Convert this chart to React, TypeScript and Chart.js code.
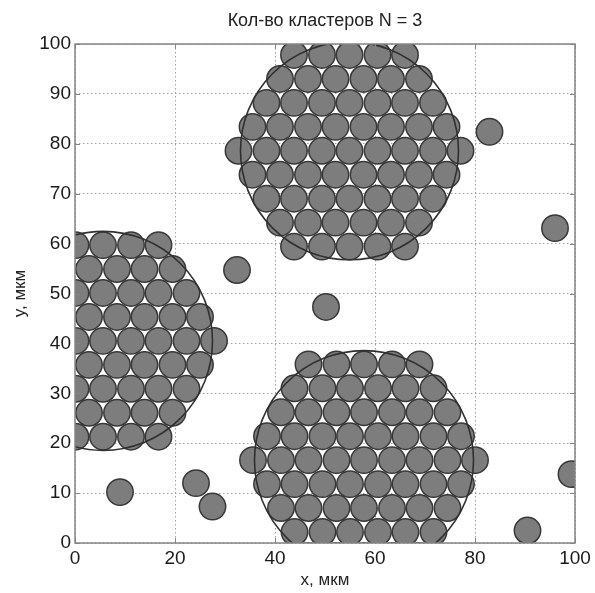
import React, { useEffect, useRef } from 'react';
import { Chart, registerables } from 'chart.js';

Chart.register(...registerables);

const TITLE = 'Кол-во кластеров N = 3';
const X_LABEL = 'x, мкм';
const Y_LABEL = 'y, мкм';

const xTicks = [0, 20, 40, 60, 80, 100];
const yTicks = [0, 10, 20, 30, 40, 50, 60, 70, 80, 90, 100];

// upper cluster (rows from top to bottom)
const topRowY = [97.8, 93.0, 88.2, 83.4, 78.6, 73.8, 69.0, 64.2, 59.4];
const topRowX = [
  [43.8, 49.4, 54.9, 60.5, 66.0],
  [41.0, 46.6, 52.1, 57.7, 63.2, 68.8],
  [38.3, 43.8, 49.4, 54.9, 60.5, 66.0, 71.6],
  [35.5, 41.0, 46.6, 52.1, 57.7, 63.2, 68.8, 74.3],
  [32.7, 38.3, 43.8, 49.4, 54.9, 60.5, 66.0, 71.6, 77.1],
  [35.5, 41.0, 46.6, 52.1, 57.7, 63.2, 68.8, 74.3],
  [38.3, 43.8, 49.4, 54.9, 60.5, 66.0, 71.6],
  [41.0, 46.6, 52.1, 57.7, 63.2, 68.8],
  [43.8, 49.4, 54.9, 60.5, 66.0],
];

// lower cluster
const bottomRowY = [35.8, 31.0, 26.2, 21.4, 16.6, 11.8, 7.0, 2.2, -2.6];
const bottomRowX = [
  [46.7, 52.3, 57.8, 63.4, 68.9],
  [43.9, 49.5, 55.0, 60.6, 66.1, 71.7],
  [41.2, 46.7, 52.3, 57.8, 63.4, 68.9, 74.5],
  [38.4, 43.9, 49.5, 55.0, 60.6, 66.1, 71.7, 77.2],
  [35.6, 41.2, 46.7, 52.3, 57.8, 63.4, 68.9, 74.5, 80.0],
  [38.4, 43.9, 49.5, 55.0, 60.6, 66.1, 71.7, 77.2],
  [41.2, 46.7, 52.3, 57.8, 63.4, 68.9, 74.5],
  [43.9, 49.5, 55.0, 60.6, 66.1, 71.7],
  [46.7, 52.3, 57.8, 63.4, 68.9],
];

// left cluster
const leftRowY = [59.7, 54.9, 50.1, 45.3, 40.5, 35.7, 30.9, 26.1, 21.3];
const leftRowX = [
  [0.1, 5.6, 11.2, 16.7],
  [2.8, 8.4, 13.9, 19.5],
  [0.1, 5.6, 11.2, 16.7, 22.3],
  [2.8, 8.4, 13.9, 19.5, 25.0],
  [0.1, 5.6, 11.2, 16.7, 22.3, 27.8],
  [2.8, 8.4, 13.9, 19.5, 25.0],
  [0.1, 5.6, 11.2, 16.7, 22.3],
  [2.8, 8.4, 13.9, 19.5],
  [0.1, 5.6, 11.2, 16.7],
];

// single particles outside clusters
const strayX = [82.9, 96.0, 32.4, 50.2, 9.0, 24.2, 27.5, 90.5, 99.3];
const strayY = [82.4, 63.1, 54.7, 47.3, 10.2, 12.0, 7.3, 2.5, 13.8];

// cluster boundary circles
const clusterX = [54.9, 57.8, 5.6];
const clusterY = [78.6, 16.6, 40.5];
const clusterR = [21.8, 21.9, 21.9];

const PARTICLE_R = 2.64;

const FONT = '"Liberation Sans", Arial, Helvetica, sans-serif';

function rowsToPoints(rowY: number[], rowX: number[][]) {
  const pts: { x: number; y: number }[] = [];
  rowY.forEach((yv, i) => rowX[i].forEach((xv) => pts.push({ x: xv, y: yv })));
  return pts;
}

const overlayPlugin = {
  id: 'overlay',
  afterDatasetsDraw(chart: any) {
    const { ctx, chartArea: a, scales } = chart;
    const xs = scales.x;
    const ys = scales.y;
    ctx.save();
    ctx.beginPath();
    ctx.rect(a.left, a.top, a.right - a.left, a.bottom - a.top);
    ctx.clip();
    ctx.strokeStyle = '#303030';
    ctx.lineWidth = 1.6;
    clusterX.forEach((cx, i) => {
      const px = xs.getPixelForValue(cx);
      const py = ys.getPixelForValue(clusterY[i]);
      const r = Math.abs(xs.getPixelForValue(clusterR[i]) - xs.getPixelForValue(0));
      ctx.beginPath();
      ctx.arc(px, py, r, 0, Math.PI * 2);
      ctx.stroke();
    });
    ctx.restore();

    // axes box and inward ticks
    ctx.save();
    ctx.strokeStyle = '#858585';
    ctx.lineWidth = 1.5;
    ctx.strokeRect(a.left, a.top, a.right - a.left, a.bottom - a.top);
    ctx.lineWidth = 1;
    const tl = 5;
    ctx.beginPath();
    xTicks.forEach((t) => {
      const px = Math.round(xs.getPixelForValue(t)) + 0.5;
      ctx.moveTo(px, a.bottom);
      ctx.lineTo(px, a.bottom - tl);
      ctx.moveTo(px, a.top);
      ctx.lineTo(px, a.top + tl);
    });
    yTicks.forEach((t) => {
      const py = Math.round(ys.getPixelForValue(t)) + 0.5;
      ctx.moveTo(a.left, py);
      ctx.lineTo(a.left + tl, py);
      ctx.moveTo(a.right, py);
      ctx.lineTo(a.right - tl, py);
    });
    ctx.stroke();
    ctx.restore();
  },
};

export default function App() {
  const canvasRef = useRef<HTMLCanvasElement | null>(null);

  useEffect(() => {
    const canvas = canvasRef.current;
    if (!canvas) return;
    const radiusFn = (c: any) => {
      const s = c.chart.scales && c.chart.scales.x;
      if (!s) return 12;
      return Math.abs(s.getPixelForValue(PARTICLE_R) - s.getPixelForValue(0));
    };
    const particleStyle = {
      pointRadius: radiusFn,
      pointHoverRadius: radiusFn,
      pointBackgroundColor: '#7d7d7d',
      pointBorderColor: '#383838',
      pointBorderWidth: 1.5,
      showLine: false,
      clip: 0,
    };
    const chart = new Chart(canvas, {
      type: 'scatter',
      data: {
        datasets: [
          { label: 'top', data: rowsToPoints(topRowY, topRowX), ...particleStyle },
          { label: 'bottom', data: rowsToPoints(bottomRowY, bottomRowX), ...particleStyle },
          { label: 'left', data: rowsToPoints(leftRowY, leftRowX), ...particleStyle },
          {
            label: 'stray',
            data: strayX.map((xv, i) => ({ x: xv, y: strayY[i] })),
            ...particleStyle,
          },
        ],
      },
      options: {
        responsive: false,
        animation: false,
        devicePixelRatio: 1,
        events: [],
        layout: { padding: { left: 0, right: 20, top: 0, bottom: 0 } },
        plugins: {
          legend: { display: false },
          tooltip: { enabled: false },
          title: {
            display: true,
            text: TITLE,
            fullSize: false,
            color: '#222222',
            font: { family: FONT, size: 18, weight: 'normal' },
            padding: { top: 10, bottom: 12.4 },
          },
        },
        scales: {
          x: {
            type: 'linear',
            min: 0,
            max: 100,
            afterFit: (s: any) => {
              s.height = 50;
            },
            afterBuildTicks: (s: any) => {
              s.ticks = xTicks.map((v) => ({ value: v }));
            },
            ticks: {
              color: '#1a1a1a',
              font: { family: FONT, size: 19 },
              padding: 4,
              maxRotation: 0,
              autoSkip: false,
            },
            grid: { color: '#a0a0a0', lineWidth: 1, drawTicks: false },
            border: { display: false, dash: [1.5, 2.5] },
            title: {
              display: true,
              text: X_LABEL,
              color: '#222222',
              font: { family: FONT, size: 17 },
              padding: { top: 0, bottom: 2 },
            },
          },
          y: {
            type: 'linear',
            min: 0,
            max: 100,
            afterFit: (s: any) => {
              s.width = 75;
            },
            afterBuildTicks: (s: any) => {
              s.ticks = yTicks.map((v) => ({ value: v }));
            },
            ticks: {
              color: '#1a1a1a',
              font: { family: FONT, size: 19 },
              padding: 4,
              autoSkip: false,
            },
            grid: { color: '#a0a0a0', lineWidth: 1, drawTicks: false },
            border: { display: false, dash: [1.5, 2.5] },
            title: {
              display: true,
              text: Y_LABEL,
              color: '#222222',
              font: { family: FONT, size: 17 },
              padding: { top: 10, bottom: 0 },
            },
          },
        },
      },
      plugins: [overlayPlugin],
    } as any);
    return () => {
      chart.destroy();
    };
  }, []);

  return (
    <div style={{ position: 'absolute', left: 0, top: 0, width: 595, height: 593, background: '#fff' }}>
      <canvas ref={canvasRef} width={595} height={593} style={{ display: 'block' }} />
    </div>
  );
}
